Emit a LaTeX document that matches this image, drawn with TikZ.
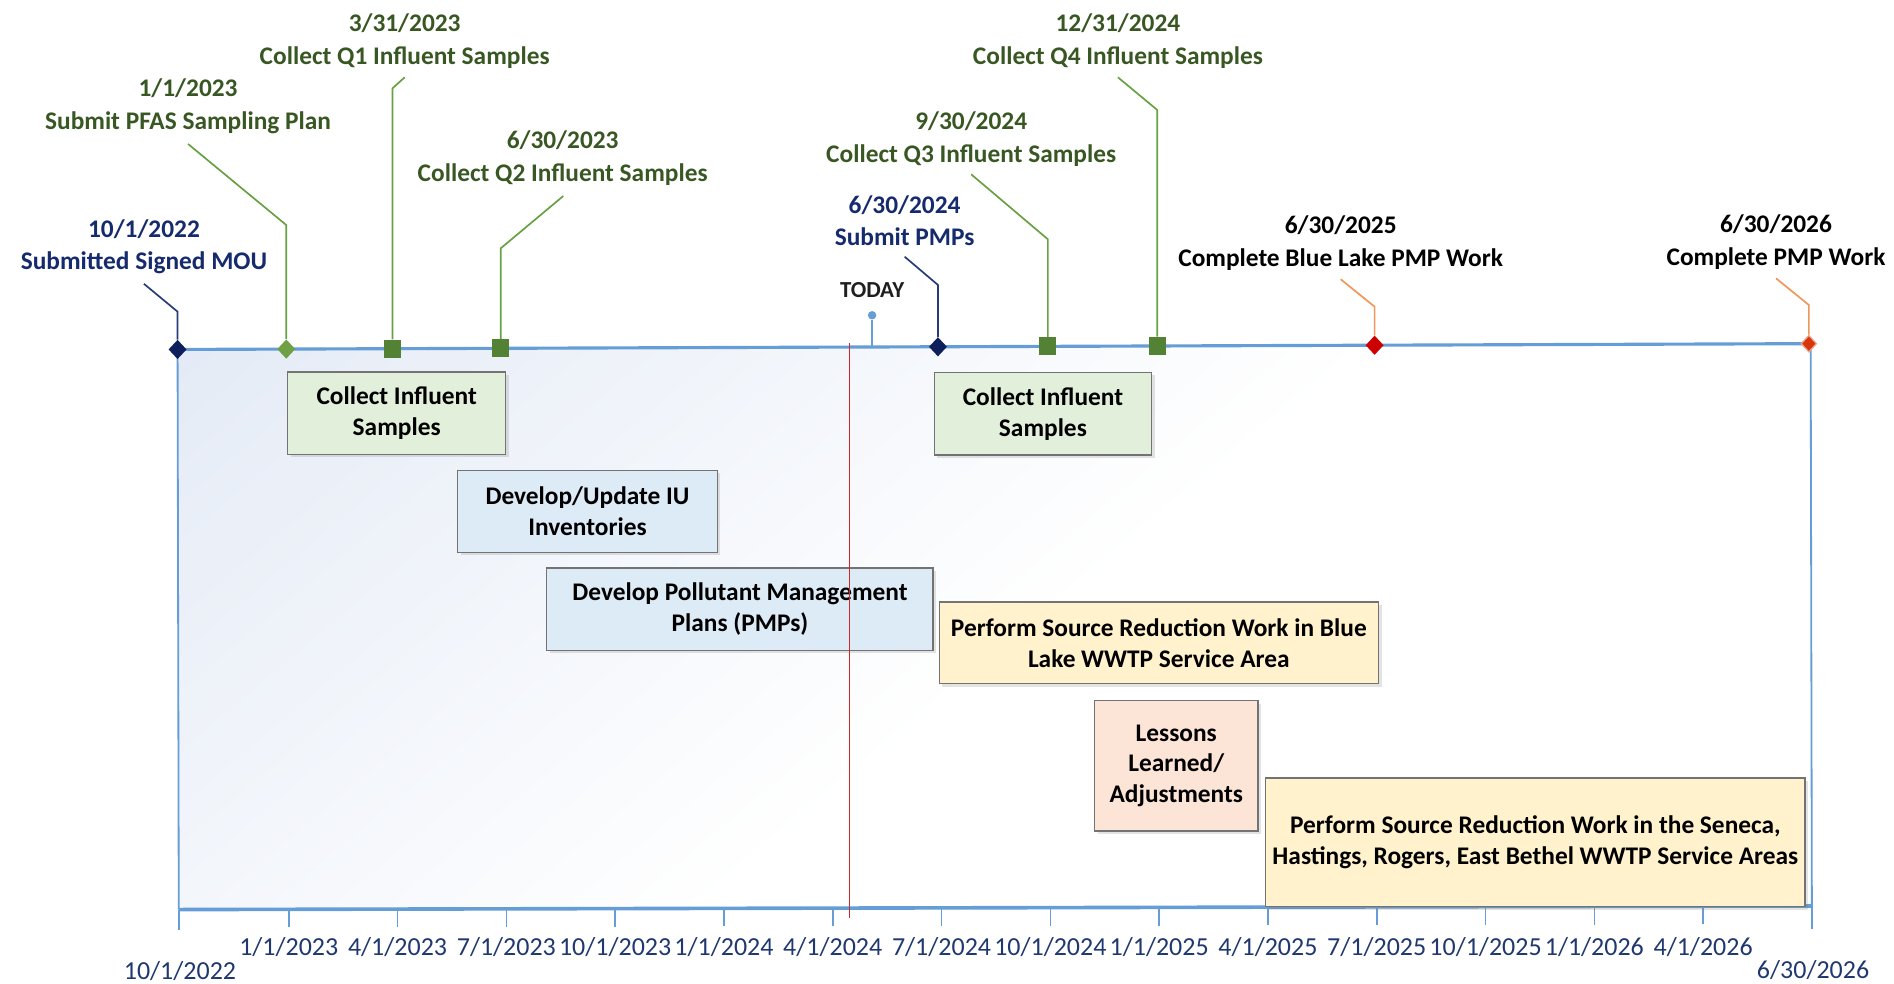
\documentclass[tikz,border=0pt]{standalone}
\usepackage{fontspec}
\setmainfont{Carlito}
\usetikzlibrary{shapes.geometric,shadows}
\definecolor{axisblue}{RGB}{101,157,214}
\definecolor{bgblue}{RGB}{226,233,245}
\definecolor{navy}{RGB}{22,42,110}
\definecolor{navyline}{RGB}{38,60,120}
\definecolor{navymark}{RGB}{14,32,92}
\definecolor{gtext}{RGB}{56,87,35}
\definecolor{gline}{RGB}{104,160,66}
\definecolor{gmark}{RGB}{84,130,53}
\definecolor{gdia}{RGB}{112,160,70}
\definecolor{oline}{RGB}{240,150,90}
\definecolor{rmark}{RGB}{205,0,0}
\definecolor{omark}{RGB}{215,55,10}
\definecolor{todayred}{RGB}{205,40,40}
\definecolor{ticktext}{RGB}{32,56,112}
\definecolor{boxline}{RGB}{115,115,115}
\definecolor{fgreen}{RGB}{226,239,218}
\definecolor{fblue}{RGB}{221,235,247}
\definecolor{fyellow}{RGB}{255,242,204}
\definecolor{fpeach}{RGB}{252,228,214}
\pgfdeclareverticalshading{bgfade}{100bp}{color(0bp)=(white); color(49bp)=(white); color(74bp)=(bgblue); color(100bp)=(bgblue)}
\begin{document}
\begin{tikzpicture}[x=1pt,y=-1pt,
  lbl/.style={font=\bfseries\fontsize{21}{27}\selectfont, align=center, inner sep=0pt},
  task/.style={draw=boxline, line width=1.1pt, font=\bfseries\fontsize{21}{25.8}\selectfont, align=center, inner sep=0pt, text=black,
    drop shadow={shadow xshift=2.5pt, shadow yshift=-2.5pt, opacity=0.22}},
  dia/.style={shape=diamond, inner sep=0pt, minimum width=15pt, minimum height=16pt},
  sq/.style={rectangle, inner sep=0pt, minimum width=14pt, minimum height=15pt, fill=gmark},
  lead/.style={line width=1.4pt},
  tick/.style={axisblue, line width=1.3pt},
  ticklbl/.style={font=\fontsize{21.5}{24}\selectfont, text=ticktext, anchor=base, inner sep=0pt},
]
\useasboundingbox (0,0) rectangle (1568,814.6);

% background shading
\begin{scope}
  \clip (147,289.3) -- (1499,284.5) -- (1500,750) -- (148,753) -- cycle;
  \shade[shading=bgfade, shading angle=40] (123,-180) rectangle (1523,1220);
\end{scope}

% frame lines
\coordinate (tl) at (147,289.3);
\coordinate (tr) at (1499,284.5);
\coordinate (bl) at (148,753);
\coordinate (br) at (1500,750);
\draw[axisblue, line width=1.5pt] (tl) -- (bl);
\draw[axisblue, line width=1.5pt] (tr) -- (br);
\draw[axisblue, line width=2.6pt] (tl) -- (tr);
\draw[axisblue, line width=3pt] (bl) -- (br);

% ticks and tick labels
\foreach \lab [count=\i from 1] in {1/1/2023,4/1/2023,7/1/2023,10/1/2023,1/1/2024,4/1/2024,7/1/2024,10/1/2024,1/1/2025,4/1/2025,7/1/2025,10/1/2025,1/1/2026,4/1/2026}{
  \pgfmathsetmacro\tx{149+90.07*\i}
  \pgfmathsetmacro\ty{753-0.00222*(\tx-148)}
  \draw[tick] (\tx,\ty) -- (\tx,\ty+15);
  \node[ticklbl] (t\i) at (\tx,791) {\lab};
}
\draw[tick] (bl) -- ++(0,17);
\draw[tick] (br) -- ++(0,19);
\node[ticklbl] (t0) at (149,811) {10/1/2022};
\node[ticklbl] (t15) at (1501,810) {6/30/2026};

% knees and leader ends
\coordinate (k1) at (147,258);    \coordinate (e1) at (119.2,235);
\coordinate (k2) at (237,186.3);  \coordinate (e2) at (155.7,119.2);
\coordinate (k3) at (325,73.1);   \coordinate (e3) at (335,64);
\coordinate (k4) at (414.5,205.6);\coordinate (e4) at (466.3,162.3);
\coordinate (k5) at (776.5,235.9);\coordinate (e5) at (748.9,212.5);
\coordinate (k6) at (867.5,198.1);\coordinate (e6) at (804,144.3);
\coordinate (k7) at (958,91);     \coordinate (e7) at (925.5,64);
\coordinate (k8) at (1138,253.9); \coordinate (e8) at (1109.9,231.2);
\coordinate (k9) at (1497.5,252.5);\coordinate (e9) at (1470.3,230.4);

% markers
\node[dia, fill=navymark] (m1) at (147,289.3) {};
\node[dia, fill=gdia] (m2) at (237,289) {};
\node[sq] (m3) at (325,288.7) {};
\node[sq] (m4) at (414.5,288.3) {};
\node[dia, fill=navymark] (m5) at (776.5,287.1) {};
\node[sq] (m6) at (867.5,286.7) {};
\node[sq] (m7) at (958,286.4) {};
\node[dia, fill=rmark] (m8) at (1138,285.8) {};
\node[dia, fill=omark, draw=omark!45, line width=1pt, minimum width=13pt, minimum height=14pt] (m9) at (1497.5,284.5) {};

% leaders
\draw[lead, navyline] (m1.north) -- (k1) -- (e1);
\draw[lead, gline] (m2.north) -- (k2) -- (e2);
\draw[lead, gline] (m3.north) -- (k3) -- (e3);
\draw[lead, gline] (m4.north) -- (k4) -- (e4);
\draw[lead, navyline] (m5.north) -- (k5) -- (e5);
\draw[lead, gline] (m6.north) -- (k6) -- (e6);
\draw[lead, gline] (m7.north) -- (k7) -- (e7);
\draw[lead, oline] (m8.north) -- (k8) -- (e8);
\draw[lead, oline] (m9.north) -- (k9) -- (e9);

% milestone labels
\node[lbl, text=navy] (l1) at (119.2,204.4) {10/1/2022\\Submitted Signed MOU};
\node[lbl, text=gtext] (l2) at (155.7,87.9) {1/1/2023\\Submit PFAS Sampling Plan};
\node[lbl, text=gtext] (l3) at (335,33.8) {3/31/2023\\Collect Q1 Influent Samples};
\node[lbl, text=gtext] (l4) at (465.8,131.1) {6/30/2023\\Collect Q2 Influent Samples};
\node[lbl, text=navy] (l5) at (748.9,182.7) {6/30/2024\\Submit PMPs};
\node[lbl, text=gtext] (l6) at (804,115.3) {9/30/2024\\Collect Q3 Influent Samples};
\node[lbl, text=gtext] (l7) at (925.5,33.8) {12/31/2024\\Collect Q4 Influent Samples};
\node[lbl, text=black] (l8) at (1109.9,201.2) {6/30/2025\\Complete Blue Lake PMP Work};
\node[lbl, text=black] (l9) at (1470.3,200.5) {6/30/2026\\Complete PMP Work};

% today marker
\node[circle, fill=axisblue, inner sep=0pt, minimum size=7pt] (tdot) at (722,261) {};
\coordinate (tbase) at (722,287.3);
\draw[axisblue, line width=1.5pt] (tdot) -- (tbase);
\node[font=\bfseries\fontsize{19}{22}\selectfont, text=black!88, inner sep=0pt] (today) at (722,240) {TODAY};

% task boxes
\node[task, fill=fgreen, minimum width=180.3pt, minimum height=68pt] (b1) at (328.4,342) {Collect Influent\\Samples};
\node[task, fill=fblue, minimum width=214.9pt, minimum height=67.9pt] (b2) at (486.4,423.3) {Develop/Update IU\\Inventories};
\node[task, fill=fblue, minimum width=319.8pt, minimum height=68.1pt] (b3) at (612.6,504.3) {Develop Pollutant Management\\Plans (PMPs)};
\node[task, fill=fgreen, minimum width=180pt, minimum height=68.5pt] (b4) at (863.4,342.5) {Collect Influent\\Samples};
\node[task, fill=fyellow, minimum width=363.6pt, minimum height=67.5pt] (b5) at (959.4,532.2) {Perform Source Reduction Work in Blue\\Lake WWTP Service Area};
\node[task, fill=fpeach, minimum width=135.4pt, minimum height=108pt, font=\bfseries\fontsize{21}{25}\selectfont] (b6) at (973.8,634) {Lessons\\Learned/\\Adjustments};
\node[task, fill=fyellow, minimum width=446.6pt, minimum height=106.5pt] (b7) at (1271.1,697.3) {Perform Source Reduction Work in the Seneca,\\Hastings, Rogers, East Bethel WWTP Service Areas};

% today line
\coordinate (redtop) at (703,284);
\coordinate (redbot) at (703,760);
\draw[todayred, line width=0.9pt] (redtop) -- (redbot);
\end{tikzpicture}
\end{document}
